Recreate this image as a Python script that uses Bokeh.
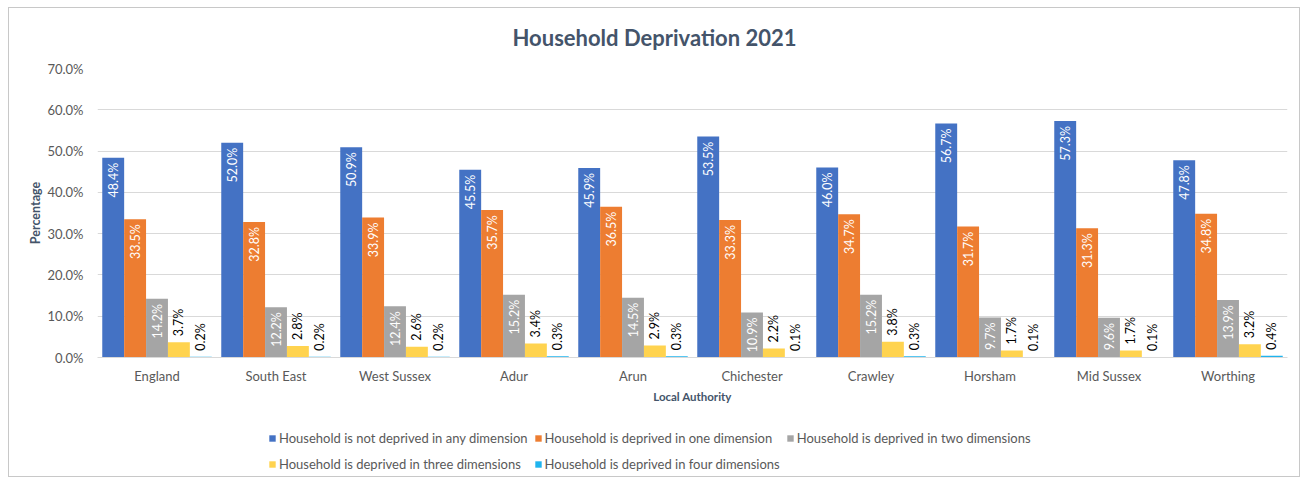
from math import pi
from bokeh.plotting import figure
from bokeh.layouts import column
from bokeh.models import (ColumnDataSource, FactorRange, Range1d, FixedTicker,
                          NumeralTickFormatter, Legend, LegendItem)
from bokeh.transform import dodge
from bokeh.core.properties import value
from bokeh.embed import file_html
from bokeh.resources import INLINE

areas = ["England", "South East", "West Sussex", "Adur", "Arun", "Chichester",
         "Crawley", "Horsham", "Mid Sussex", "Worthing"]
not_deprived = [48.4, 52.0, 50.9, 45.5, 45.9, 53.5, 46.0, 56.7, 57.3, 47.8]
one_dim = [33.5, 32.8, 33.9, 35.7, 36.5, 33.3, 34.7, 31.7, 31.3, 34.8]
two_dim = [14.2, 12.2, 12.4, 15.2, 14.5, 10.9, 15.2, 9.7, 9.6, 13.9]
three_dim = [3.7, 2.8, 2.6, 3.4, 2.9, 2.2, 3.8, 1.7, 1.7, 3.2]
four_dim = [0.2, 0.2, 0.2, 0.3, 0.3, 0.1, 0.3, 0.1, 0.1, 0.4]

series_names = ["Household is not deprived in any dimension",
                "Household is deprived in one dimension",
                "Household is deprived in two dimensions",
                "Household is deprived in three dimensions",
                "Household is deprived in four dimensions"]
series_values = [not_deprived, one_dim, two_dim, three_dim, four_dim]
colors = ["#4472C4", "#ED7D31", "#A5A5A5", "#FFD34F", "#1FB4EE"]
inside = [True, True, True, False, False]
y_ticks = [0, 0.1, 0.2, 0.3, 0.4, 0.5, 0.6, 0.7]

FONT = "Lato"
W = 1290

p = figure(x_range=FactorRange(factors=areas, range_padding=0),
           y_range=Range1d(0, 0.7), width=W, height=405,
           output_backend="svg", toolbar_location=None,
           min_border_left=88, min_border_right=12,
           min_border_top=60, min_border_bottom=56)

p.title.text = "Household Deprivation 2021"
p.title.align = "left"
p.title.offset = 415
p.title.vertical_align = "top"
p.title.text_font = FONT
p.title.text_font_size = "22px"
p.title.text_font_style = "bold"
p.title.text_color = "#44546A"
p.title.standoff = 31

bw = 0.184
sources = []
for i, (name, vals, col) in enumerate(zip(series_names, series_values, colors)):
    off = (i - 2) * bw
    src = ColumnDataSource(dict(x=areas, y=[v / 100 for v in vals],
                                label=[f"{v:.1f}%" for v in vals]))
    sources.append(src)
    p.vbar(x=dodge("x", off, range=p.x_range), top="y", width=bw,
           source=src, fill_color=col, line_color=None)
    if inside[i]:
        p.text(x=dodge("x", off, range=p.x_range), y="y", text="label", source=src,
               angle=pi / 2, text_align="right", text_baseline="middle",
               y_offset=5, text_color="white", text_font=value(FONT),
               text_font_size="12.5px")
    else:
        p.text(x=dodge("x", off, range=p.x_range), y="y", text="label", source=src,
               angle=pi / 2, text_align="left", text_baseline="middle",
               y_offset=-6, text_color="black", text_font=value(FONT),
               text_font_size="12.5px")

# axes
p.yaxis.ticker = FixedTicker(ticks=y_ticks)
p.yaxis.formatter = NumeralTickFormatter(format="0.0%")
p.yaxis.axis_line_color = None
p.yaxis.major_tick_line_color = None
p.yaxis.minor_tick_line_color = None
p.yaxis.major_label_standoff = 8
p.yaxis.major_label_text_font = FONT
p.yaxis.major_label_text_font_size = "13px"
p.yaxis.major_label_text_color = "#595959"
p.yaxis.axis_label = "Percentage"
p.yaxis.axis_label_standoff = 1
p.yaxis.axis_label_text_font = FONT
p.yaxis.axis_label_text_font_size = "12.5px"
p.yaxis.axis_label_text_font_style = "bold"
p.yaxis.axis_label_text_color = "#44546A"

p.xaxis.axis_line_color = "#D9D9D9"
p.xaxis.major_tick_line_color = None
p.xaxis.minor_tick_line_color = None
p.xaxis.major_label_standoff = 4
p.xaxis.major_label_text_font = FONT
p.xaxis.major_label_text_font_size = "13px"
p.xaxis.major_label_text_color = "#595959"
p.xaxis.axis_label = "Local Authority"
p.xaxis.axis_label_standoff = 3
p.xaxis.axis_label_text_font = FONT
p.xaxis.axis_label_text_font_size = "11.5px"
p.xaxis.axis_label_text_font_style = "bold"
p.xaxis.axis_label_text_color = "#44546A"

p.xgrid.grid_line_color = None
p.ygrid.grid_line_color = "#D9D9D9"
p.ygrid.ticker = FixedTicker(ticks=y_ticks)
p.outline_line_color = None

# legend strip: a separate figure (no axes) so the legend is not clipped;
# its bars use the same data but lie outside its y range, so only the legend shows
q = figure(width=W, height=63, output_backend="svg", toolbar_location=None,
           x_range=FactorRange(factors=areas), y_range=Range1d(2, 3),
           x_axis_location=None, y_axis_location=None,
           min_border_left=0, min_border_right=0, min_border_top=0,
           min_border_bottom=0)
q.grid.visible = False
q.outline_line_color = None
items = []
for i, (name, col, src) in enumerate(zip(series_names, colors, sources)):
    r = q.vbar(x=dodge("x", (i - 2) * bw, range=q.x_range), top="y", width=bw,
               source=src, fill_color=col, line_color=None)
    items.append(LegendItem(label=name, renderers=[r]))
legend = Legend(items=items, location=(171, 2), orientation="horizontal", ncols=3,
                label_text_font=FONT, label_text_font_size="13px",
                label_text_color="#595959", glyph_width=8, glyph_height=8,
                label_height=20, label_standoff=3, spacing=6, padding=2,
                margin=0, border_line_color=None, background_fill_alpha=0)
q.add_layout(legend, "center")

layout = column(p, q, spacing=0)
layout.styles = {"margin-left": "8px", "margin-top": "7px",
                 "border": "1px solid #C8C8C8"}

open("out.html", "w").write(file_html(layout, INLINE))
